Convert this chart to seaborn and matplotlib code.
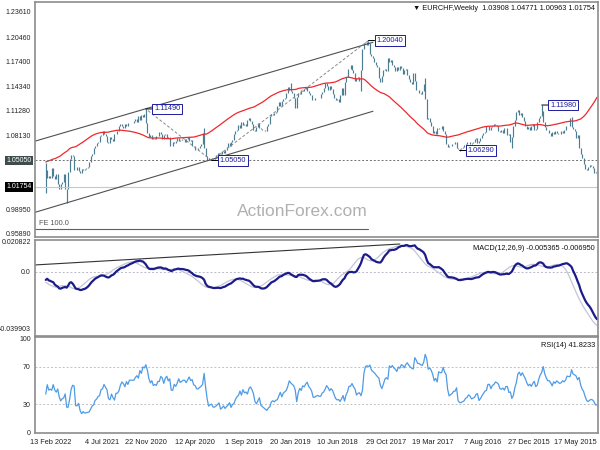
import numpy as np
import pandas as pd
import matplotlib
matplotlib.use("Agg")
import matplotlib.pyplot as plt
import matplotlib.dates as mdates
from matplotlib.transforms import blended_transform_factory
import seaborn as sns

# ---------------- data (weekly closes, EURCHF) ----------------
# warm-up history before the visible window (Jan 2014 .. 10 May 2015)
pre_closes = [
    1.232, 1.232, 1.231, 1.223,
    1.221, 1.222, 1.220, 1.218,
    1.218, 1.215, 1.219, 1.220, 1.220,
    1.219, 1.210, 1.216, 1.218,
    1.221, 1.218, 1.219, 1.220,
    1.220, 1.218, 1.216, 1.218, 1.217,
    1.215, 1.214, 1.215, 1.216,
    1.214, 1.212, 1.212, 1.210, 1.208,
    1.206, 1.208, 1.207, 1.209,
    1.211, 1.209, 1.211, 1.211,
    1.207, 1.202, 1.202, 1.202, 1.203,
    1.201, 1.201, 1.201, 1.202,
    1.201, 1.028, 0.991, 1.043,
    1.059, 1.055, 1.068, 1.071,
    1.067, 1.068, 1.053, 1.049, 1.045,
    1.046, 1.036, 1.032, 1.042,
    1.042, 1.037,
]
closes_2015 = [1.036, 1.035, 1.041,
               1.044, 1.045, 1.042, 1.038,
               1.040, 1.046, 1.054, 1.058,
               1.066, 1.082, 1.078, 1.087, 1.090,
               1.092, 1.104, 1.093, 1.093,
               1.094, 1.088, 1.085, 1.087,
               1.084, 1.083, 1.085, 1.087, 1.084,
               1.086, 1.081, 1.085, 1.088]
closes_2016 = [1.088, 1.092, 1.098, 1.112, 1.106,
               1.103, 1.098, 1.090, 1.088,
               1.096, 1.093, 1.089, 1.092,
               1.090, 1.094, 1.100, 1.105,
               1.110, 1.107, 1.113, 1.111, 1.101,
               1.094, 1.080, 1.074, 1.083,
               1.082, 1.091, 1.091, 1.085, 1.088,
               1.086, 1.087, 1.093, 1.095,
               1.096, 1.093, 1.092, 1.088,
               1.093, 1.093, 1.086, 1.085, 1.082,
               1.079, 1.075, 1.072, 1.078,
               1.077, 1.073, 1.072, 1.071]
closes_2017 = [1.073, 1.074, 1.071, 1.070, 1.067,
               1.066, 1.065, 1.065, 1.066,
               1.074, 1.071, 1.071, 1.069,
               1.068, 1.067, 1.071, 1.084, 1.087,
               1.094, 1.090, 1.090, 1.091,
               1.083, 1.087, 1.085, 1.093,
               1.099, 1.103, 1.102, 1.127, 1.146,
               1.137, 1.133, 1.135, 1.139,
               1.139, 1.150, 1.160, 1.146,
               1.148, 1.152, 1.157, 1.165, 1.163,
               1.159, 1.166, 1.168, 1.164,
               1.167, 1.162, 1.167, 1.170, 1.176]
closes_2018 = [1.174, 1.178, 1.162, 1.165,
               1.163, 1.156, 1.149, 1.154,
               1.167, 1.170, 1.174, 1.178,
               1.181, 1.184, 1.197, 1.195, 1.198,
               1.197, 1.190, 1.163, 1.150,
               1.155, 1.154, 1.150, 1.160,
               1.164, 1.170, 1.165, 1.165, 1.155,
               1.148, 1.132, 1.141, 1.132,
               1.124, 1.127, 1.126, 1.128, 1.134,
               1.140, 1.143, 1.139, 1.144,
               1.147, 1.141, 1.136, 1.134,
               1.128, 1.128, 1.129, 1.128, 1.126]
closes_2019 = [1.126, 1.132, 1.135, 1.137,
               1.142, 1.140, 1.137, 1.138,
               1.133, 1.135, 1.130, 1.116, 1.129,
               1.135, 1.137, 1.139, 1.142,
               1.135, 1.129, 1.127, 1.125,
               1.119, 1.124, 1.118, 1.111, 1.110,
               1.107, 1.108, 1.106, 1.096,
               1.093, 1.087, 1.088, 1.089,
               1.090, 1.091, 1.097, 1.092, 1.087,
               1.089, 1.096, 1.100, 1.103,
               1.101, 1.094, 1.096, 1.095,
               1.098, 1.091, 1.095, 1.089, 1.087]
closes_2020 = [1.083, 1.076, 1.074, 1.068,
               1.072, 1.067, 1.064, 1.060,
               1.062, 1.058, 1.055, 1.060, 1.057,
               1.054, 1.052, 1.052, 1.054,
               1.053, 1.051, 1.056, 1.066, 1.085,
               1.071, 1.068, 1.066, 1.064,
               1.064, 1.068, 1.069, 1.076,
               1.075, 1.080, 1.077, 1.074, 1.077,
               1.077, 1.076, 1.075, 1.079,
               1.075, 1.072, 1.074, 1.068,
               1.068, 1.080, 1.078, 1.084, 1.082,
               1.077, 1.084, 1.086, 1.081]
closes_2021 = [1.081, 1.077, 1.078, 1.077, 1.082,
               1.080, 1.085, 1.097, 1.108,
               1.105, 1.107, 1.101, 1.106,
               1.098, 1.102, 1.100, 1.097,
               1.097, 1.097, 1.097, 1.093, 1.096,
               1.091, 1.094, 1.096, 1.093,
               1.087, 1.084, 1.084, 1.075,
               1.077, 1.080, 1.072, 1.073, 1.081,
               1.084, 1.087, 1.082, 1.081,
               1.073, 1.072, 1.068, 1.066, 1.058,
               1.056, 1.049, 1.042, 1.041,
               1.040, 1.039, 1.040, 1.035]
closes_2022 = [1.037, 1.042, 1.038, 1.038, 1.056,
               1.057, 1.052, 1.036, 1.015,
               1.015, 1.033, 1.023, 1.021,
               1.015, 1.021, 1.034, 1.027,
               1.031, 1.041, 1.029, 1.031, 1.029,
               1.03908, 1.01754]

# intraweek extremes that stick out of the close-to-close range
high_dates = ["2015-09-13", "2016-01-31", "2017-07-30", "2018-04-22",
              "2019-04-21", "2020-05-31", "2021-02-28", "2022-06-12"]
high_vals = [1.1050, 1.1198, 1.1537, 1.2004, 1.1475, 1.0915, 1.1149, 1.04771]
low_dates = ["2016-06-19", "2017-02-19", "2018-05-27", "2020-04-26",
             "2022-03-06", "2022-06-12"]
low_vals = [1.0655, 1.0629, 1.1375, 1.0505, 0.9970, 1.00963]

# price labels drawn on the chart
label_dates = ["2021-02-28", "2020-04-26", "2018-04-22", "2017-02-19", "2016-01-31"]
label_vals = [1.1149, 1.0505, 1.2004, 1.0629, 1.1198]
label_texts = ["1.11490", "1.05050", "1.20040", "1.06290", "1.11980"]

# analyst drawings
chan_dates = ["2018-04-01", "2022-08-03"]
chan_upper = [1.1982, 1.0745]
chan_lower = [1.1120, 0.9855]
fe_points_dates = ["2018-04-22", "2020-04-26", "2021-02-28"]   # A, B, C
fe_points_vals = [1.2004, 1.0505, 1.1149]
macd_trend_dates = ["2017-11-26", "2022-08-03"]
macd_trend_vals = [0.0193, 0.0047]
hline_level = 1.0505
last_price = 1.01754

main_ticks = [1.23610, 1.20460, 1.17400, 1.14340, 1.11280, 1.08130, 0.98950, 0.95890]
macd_ticks = [0.020822, 0.0, -0.039903]
macd_tick_labels = ["0.020822", "0.0", "-0.039903"]
rsi_ticks = [100, 70, 30, 0]
date_tick_labels = ["17 May 2015", "27 Dec 2015", "7 Aug 2016", "19 Mar 2017",
                    "29 Oct 2017", "10 Jun 2018", "20 Jan 2019", "1 Sep 2019",
                    "12 Apr 2020", "22 Nov 2020", "4 Jul 2021", "13 Feb 2022"]

header = "\u25BC EURCHF,Weekly  1.03908 1.04771 1.00963 1.01754"
macd_title = "MACD(12,26,9) -0.005365 -0.006950"
rsi_title = "RSI(14) 41.8233"

# ---------------- computation ----------------
closes = (closes_2015 + closes_2016 + closes_2017 + closes_2018 +
          closes_2019 + closes_2020 + closes_2021 + closes_2022)
start = pd.Timestamp("2015-05-17")
dates = pd.date_range(start, periods=len(closes), freq="7D")
pre_dates = pd.date_range(end=start - pd.Timedelta(days=7), periods=len(pre_closes), freq="7D")
allc = pd.Series(pre_closes + closes, index=pre_dates.append(dates), dtype=float)

ma = allc.ewm(span=55, adjust=False).mean()
macd = allc.ewm(span=12, adjust=False).mean() - allc.ewm(span=26, adjust=False).mean()
signal = macd.rolling(9).mean()
delta = allc.diff()
gain = delta.clip(lower=0).ewm(alpha=1 / 14, adjust=False).mean()
loss = (-delta.clip(upper=0)).ewm(alpha=1 / 14, adjust=False).mean()
rsi = 100 - 100 / (1 + gain / loss)

opens = allc.shift(1)
df = pd.DataFrame({"date": dates,
                   "open": opens.loc[dates].values,
                   "close": allc.loc[dates].values,
                   "ma": ma.loc[dates].values,
                   "macd": macd.loc[dates].values,
                   "signal": signal.loc[dates].values,
                   "rsi": rsi.loc[dates].values})
df["high"] = df[["open", "close"]].max(axis=1)
df["low"] = df[["open", "close"]].min(axis=1)
df = df.set_index("date")
for d, v in zip(high_dates, high_vals):
    df.loc[pd.Timestamp(d), "high"] = max(df.loc[pd.Timestamp(d), "high"], v)
for d, v in zip(low_dates, low_vals):
    df.loc[pd.Timestamp(d), "low"] = min(df.loc[pd.Timestamp(d), "low"], v)
df = df.reset_index()

# ---------------- drawing ----------------
sns.set_style("white")
plt.rcParams["font.family"] = ["Liberation Sans", "DejaVu Sans"]
FS = 5.3
YFS = 5.0

fig = plt.figure(figsize=(6, 4.5), dpi=100)
L, W = 35 / 600, 563 / 600
ax1 = fig.add_axes([L, 1 - 237 / 450, W, 235 / 450])
ax2 = fig.add_axes([L, 1 - 336 / 450, W, 96 / 450])
ax3 = fig.add_axes([L, 1 - 433 / 450, W, 96 / 450])

x_left = start + pd.Timedelta(weeks=376.2)
x_right = start - pd.Timedelta(weeks=0.67)

bar_col = "#4d7d93"
ax1.vlines(df["date"], df["low"], df["high"], color=bar_col, lw=0.85)
sns.lineplot(data=df, x="date", y="ma", ax=ax1, color="#f0282d", lw=0.9)

# horizontal lines
ax1.axhline(hline_level, color="#707070", lw=0.7, ls=(0, (2, 2)))
ax1.axhline(last_price, color="#c8c8c8", lw=0.8)

# channel
cd = pd.to_datetime(chan_dates)
ax1.plot(cd, chan_upper, color="#505050", lw=0.8)
ax1.plot(cd, chan_lower, color="#505050", lw=0.8)

# Fibonacci expansion
fd = pd.to_datetime(fe_points_dates)
ax1.plot(fd[:2], fe_points_vals[:2], color="#888888", lw=0.7, ls=(0, (3, 2)))
ax1.plot(fd[1:], fe_points_vals[1:], color="#888888", lw=0.7, ls=(0, (3, 2)))
fe100 = fe_points_vals[2] - (fe_points_vals[0] - fe_points_vals[1])
ax1.plot([fd[0], x_left], [fe100, fe100], color="#606060", lw=0.8)
ax1.text(x_left - pd.Timedelta(weeks=3), fe100 + 0.002, "FE 100.0", fontsize=FS,
         color="#555555", ha="left", va="bottom")

# price labels
for d, v, t in zip(label_dates, label_vals, label_texts):
    ax1.annotate(t, xy=(pd.Timestamp(d), v), xytext=(6, 0), textcoords="offset points",
                 ha="left", va="center", fontsize=FS, color="#1c1c9c",
                 bbox=dict(boxstyle="square,pad=0.25", fc="white", ec="#1c1c9c", lw=0.7),
                 arrowprops=dict(arrowstyle="-", color="black", lw=0.7,
                                 shrinkA=0, shrinkB=0))

ax1.set_ylim(0.9548, 1.2486)
ax1.set_yticks(main_ticks)
ax1.set_yticklabels([f"{t:.5f}" for t in main_ticks])
tr = blended_transform_factory(ax1.transAxes, ax1.transData)
ax1.text(-0.006, hline_level, "1.05050", transform=tr, ha="right", va="center",
         fontsize=YFS, color="white",
         bbox=dict(boxstyle="square,pad=0.2", fc="#3e4c4c", ec="none"))
ax1.text(-0.006, last_price, "1.01754", transform=tr, ha="right", va="center",
         fontsize=YFS, color="white",
         bbox=dict(boxstyle="square,pad=0.2", fc="black", ec="none"))
fig.text(595 / 600, 1 - 9 / 450, header, ha="right", va="center", fontsize=FS,
         color="#111111")
fig.text(302 / 600, 1 - 211 / 450, "ActionForex.com", ha="center", va="center",
         fontsize=12.5, color="#b0b0b0")

# MACD
ax2.axhline(0, color="#b8b8c8", lw=0.7, ls=(0, (2, 2)))
sns.lineplot(data=df, x="date", y="signal", ax=ax2, color="#c4c4d6", lw=0.9)
sns.lineplot(data=df, x="date", y="macd", ax=ax2, color="#1b1b8a", lw=1.6)
ax2.plot(pd.to_datetime(macd_trend_dates), macd_trend_vals, color="#333333", lw=0.8)
ax2.set_ylim(-0.0448, 0.0221)
ax2.set_yticks(macd_ticks)
ax2.set_yticklabels(macd_tick_labels)
ax2.text(0.995, 0.95, macd_title, transform=ax2.transAxes, ha="right", va="top",
         fontsize=FS, color="#111111")

# RSI
for lv in (70, 30):
    ax3.axhline(lv, color="#c0c0c0", lw=0.7, ls=(0, (2, 2)))
sns.lineplot(data=df, x="date", y="rsi", ax=ax3, color="#4f9be6", lw=0.9)
ax3.set_ylim(-0.5, 101.9)
ax3.set_yticks(rsi_ticks)
ax3.set_yticklabels([str(t) for t in rsi_ticks])
ax3.text(0.995, 0.95, rsi_title, transform=ax3.transAxes, ha="right", va="top",
         fontsize=FS, color="#111111")

tick_pos = pd.to_datetime(date_tick_labels, format="%d %b %Y")
for ax in (ax1, ax2, ax3):
    ax.set_xlim(x_left, x_right)
    ax.set_xlabel("")
    ax.set_ylabel("")
    for s in ax.spines.values():
        s.set_color("#8c8c8c")
        s.set_linewidth(1.2)
    ax.tick_params(axis="y", labelsize=YFS, length=2.0, width=0.6, pad=1.0,
                   colors="#222222")
    if ax is not ax3:
        ax.set_xticks([])
ax3.set_xticks(tick_pos)
ax3.set_xticklabels(date_tick_labels, ha="right")
ax3.tick_params(axis="x", labelsize=FS, length=2.5, width=0.6, pad=1.5, colors="#222222")

fig.savefig("out.png", dpi=100)
